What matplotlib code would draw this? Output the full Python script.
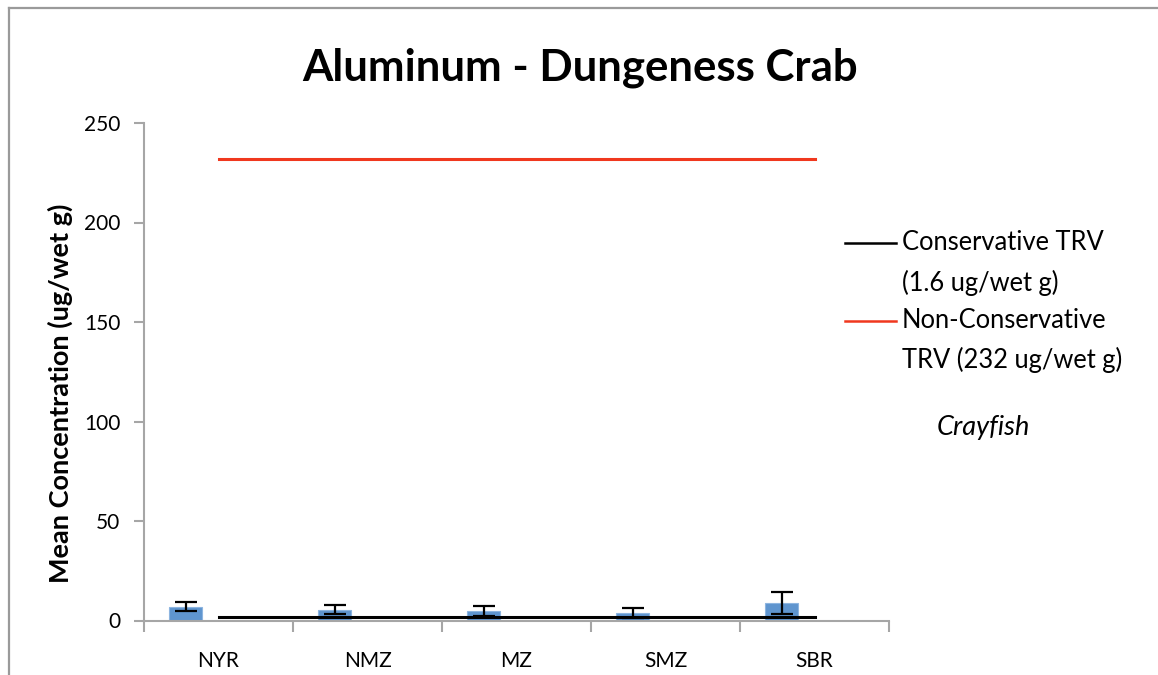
import matplotlib
matplotlib.use("Agg")
import matplotlib.pyplot as plt
from matplotlib.lines import Line2D
import numpy as np

# Data
sites = ["NYR", "NMZ", "MZ", "SMZ", "SBR"]
mean_conc = [7.0, 5.4, 4.7, 3.7, 8.9]
std_err = [2.4, 2.3, 2.4, 2.4, 5.6]
conservative_trv = 1.6
non_conservative_trv = 232
yticks = [0, 50, 100, 150, 200, 250]

W, H = 1158, 675
fig = plt.figure(figsize=(W / 100, H / 100), dpi=100)
fig.patch.set_facecolor("white")

FONT = "Lato"
GRAY = "#A6A6A6"


def fx(px):
    return px / W


def fy(py):
    return 1 - py / H


# Outer chart frame (top and left edges)
fig.add_artist(Line2D([fx(9), fx(9)], [fy(8), fy(H)], color="#9A9A9A", lw=1.6))
fig.add_artist(Line2D([fx(9), fx(W)], [fy(8), fy(8)], color="#9A9A9A", lw=1.6))

left, right, top, bottom = 144, 889, 123, 620.5
ax = fig.add_axes([fx(left), fy(bottom), fx(right - left), (bottom - top) / H])

x = np.arange(len(sites))
bar_w = 0.22
ax.bar(x - bar_w, mean_conc, width=bar_w, color="#5F95CF", edgecolor="#8DB5E0",
       linewidth=0.8, zorder=2)
ax.errorbar(x - bar_w, mean_conc, yerr=std_err, fmt="none", ecolor="black",
            elinewidth=1.6, capsize=8, capthick=1.6, zorder=3)

ax.plot(x, [conservative_trv] * len(sites), color="black", lw=2.2, zorder=4)
ax.plot(x, [non_conservative_trv] * len(sites), color="#F0381E", lw=2.2, zorder=4)

ax.set_xlim(-0.5, len(sites) - 0.5)
ax.set_ylim(0, 250)

for s in ["top", "right"]:
    ax.spines[s].set_visible(False)
for s in ["left", "bottom"]:
    ax.spines[s].set_color(GRAY)
    ax.spines[s].set_linewidth(1.5)

ax.set_yticks(yticks)
ax.set_yticklabels([str(v) for v in yticks], fontsize=15, fontfamily=FONT)
ax.tick_params(axis="y", length=7, width=1.5, color=GRAY, pad=10)

ax.set_xticks(x)
ax.set_xticklabels(sites, fontsize=15, fontfamily=FONT)
ax.tick_params(axis="x", which="major", length=0, pad=22)
ax.set_xticks(np.arange(-0.5, len(sites) + 0.5, 1.0), minor=True)
ax.tick_params(axis="x", which="minor", length=8, width=1.5, color=GRAY)

fig.text(fx(60), fy(393), "Mean Concentration (ug/wet g)", rotation=90,
         ha="center", va="center", fontsize=19.5, fontweight="bold", fontfamily=FONT)

fig.text(fx(580), fy(68), "Aluminum - Dungeness Crab", ha="center", va="center",
         fontsize=31.5, fontweight="bold", fontfamily=FONT)

# Legend
fig.add_artist(Line2D([fx(845), fx(896)], [fy(243), fy(243)], color="black", lw=1.8))
fig.text(fx(902), fy(243), "Conservative TRV", ha="left", va="center",
         fontsize=18.4, fontfamily=FONT)
fig.text(fx(902), fy(283), "(1.6 ug/wet g)", ha="left", va="center",
         fontsize=18.4, fontfamily=FONT)
fig.add_artist(Line2D([fx(845), fx(896)], [fy(321), fy(321)], color="#F0381E", lw=1.8))
fig.text(fx(902), fy(321), "Non-Conservative", ha="left", va="center",
         fontsize=18.4, fontfamily=FONT)
fig.text(fx(902), fy(360), "TRV (232 ug/wet g)", ha="left", va="center",
         fontsize=18.4, fontfamily=FONT)
fig.text(fx(937), fy(428), "Crayfish", ha="left", va="center",
         fontsize=19.5, fontstyle="italic", fontfamily=FONT)

fig.savefig("out.png", dpi=100, facecolor="white")
